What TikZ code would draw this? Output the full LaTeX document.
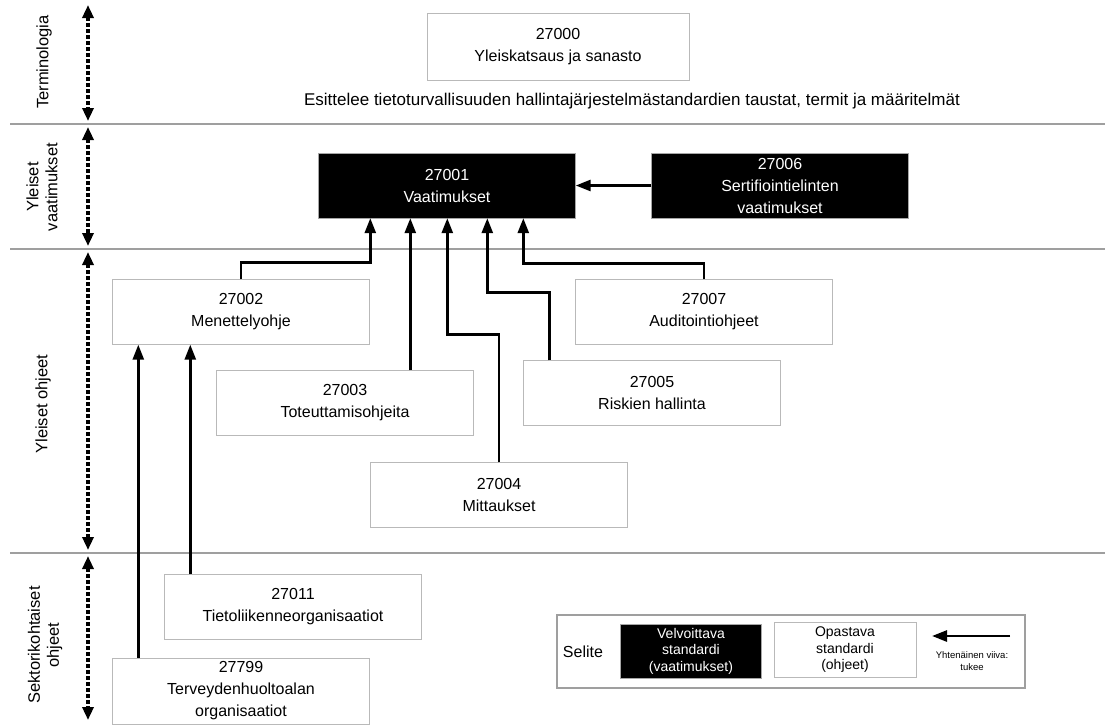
\documentclass[tikz,border=0pt]{standalone}
\usepackage{fontspec}
\setmainfont{Liberation Sans}
\usepackage{tikz}
\usetikzlibrary{arrows.meta, positioning, calc}
\newcommand{\boxfont}{\fontsize{16}{22}\selectfont}
\newcommand{\sidefont}{\fontsize{16.5}{19}\selectfont}
\newcommand{\keyfont}{\fontsize{14}{16.5}\selectfont}
\newcommand{\tinykey}{\fontsize{9.5}{12.5}\selectfont}
\tikzset{
  stdbox/.style={draw=gray!55, fill=white, minimum width=257pt, minimum height=65pt, inner sep=0pt, align=center, font=\boxfont},
  reqbox/.style={stdbox, fill=black, text=white, draw=gray!70},
  supp/.style={-{Triangle[length=15pt,width=11pt]}, line width=2.6pt},
  span/.style={{Triangle[length=13pt,width=11pt]}-{Triangle[length=13pt,width=11pt]}, line width=3.2pt, dash pattern=on 4pt off 2pt},
  band/.style={draw=gray!75, line width=2.5pt},
  sidelbl/.style={rotate=90, align=center, font=\sidefont},
}

\begin{document}
\begin{tikzpicture}[x=1pt, y=-1pt]
  \useasboundingbox (0,0) rectangle (1105,724);

  % bands
  \draw[band] (10,124) -- (1105,124);
  \draw[band] (10,249) -- (1105,249);
  \draw[band] (10,553) -- (1105,553);

  % side scale
  \coordinate (s0) at (88,5);
  \coordinate (s1) at (88,121);
  \coordinate (s2) at (88,127);
  \coordinate (s3) at (88,246);
  \coordinate (s4) at (88,252);
  \coordinate (s5) at (88,550);
  \coordinate (s6) at (88,556);
  \coordinate (s7) at (88,720);
  \draw[span] (s0) -- (s1);
  \draw[span] (s2) -- (s3);
  \draw[span] (s4) -- (s5);
  \draw[span] (s6) -- (s7);

  \node[sidelbl] (lTerm) at (44,62) {Terminologia};
  \node[sidelbl] (lReq) at (42,187) {Yleiset\\vaatimukset};
  \node[sidelbl] (lGuide) at (43,404) {Yleiset ohjeet};
  \node[sidelbl] (lSector) at (45,645) {Sektorikohtaiset\\ohjeet};

  % standards
  \node[stdbox, minimum width=262pt, minimum height=67pt] (n27000) at (558,47) {27000\\Yleiskatsaus ja sanasto};
  \node[font=\fontsize{17}{20}\selectfont] (desc) at (632,101) {Esittelee tietoturvallisuuden hallintajärjestelmästandardien taustat, termit ja määritelmät};

  \node[reqbox] (n27001) at (447,185.5) {27001\\Vaatimukset};
  \node[reqbox] (n27006) at (780,185.5) {27006\\Sertifiointielinten\\vaatimukset};

  \node[stdbox] (n27002) at (241,312) {27002\\Menettelyohje};
  \node[stdbox] (n27007) at (704,312) {27007\\Auditointiohjeet};
  \node[stdbox] (n27003) at (345,403) {27003\\Toteuttamisohjeita};
  \node[stdbox] (n27005) at (652,393) {27005\\Riskien hallinta};
  \node[stdbox] (n27004) at (499,495) {27004\\Mittaukset};
  \node[stdbox] (n27011) at (293,607) {27011\\Tietoliikenneorganisaatiot};
  \node[stdbox, minimum height=66pt] (n27799) at (241,691) {27799\\Terveydenhuoltoalan\\organisaatiot};

  % support links
  \draw[supp] (n27006.west) -- (n27001.east);
  \draw[supp] (n27002.north) |- ([xshift=52pt,yshift=-44pt]n27001.south west) -- ([xshift=52pt]n27001.south west);
  \draw[supp] ([xshift=194pt]n27003.north west) -- ([xshift=194pt]n27003.north west |- n27001.south);
  \draw[supp] (n27004.north) |- ([xshift=129pt,yshift=-116pt]n27001.south west) -- ([xshift=129pt]n27001.south west);
  \draw[supp] ([xshift=26pt]n27005.north west) |- ([xshift=169pt,yshift=-74pt]n27001.south west) -- ([xshift=169pt]n27001.south west);
  \draw[supp] (n27007.north) |- ([xshift=205pt,yshift=-45pt]n27001.south west) -- ([xshift=205pt]n27001.south west);
  \draw[supp] ([xshift=26pt]n27799.north west) -- ([xshift=26pt]n27799.north west |- n27002.south);
  \draw[supp] ([xshift=26pt]n27011.north west) -- ([xshift=26pt]n27011.north west |- n27002.south);

  % legend
  \node[draw=gray!75, line width=2pt, minimum width=468pt, minimum height=73pt] (key) at (791,651) {};
  \node[font=\fontsize{16}{19}\selectfont] (keyTitle) at (583,652) {Selite};
  \node[reqbox, font=\keyfont, minimum width=141pt, minimum height=54pt] (keyReq) at (691,651) {Velvoittava\\standardi\\(vaatimukset)};
  \node[stdbox, font=\keyfont, minimum width=142pt, minimum height=55pt] (keyGuide) at (845,650) {Opastava\\standardi\\(ohjeet)};
  \coordinate (keyA) at (1010,636);
  \coordinate (keyB) at (932,636);
  \draw[supp] (keyA) -- (keyB);
  \node[font=\tinykey, align=center] (keyTxt) at (972,661) {Yhtenäinen viiva:\\tukee};
\end{tikzpicture}
\end{document}
